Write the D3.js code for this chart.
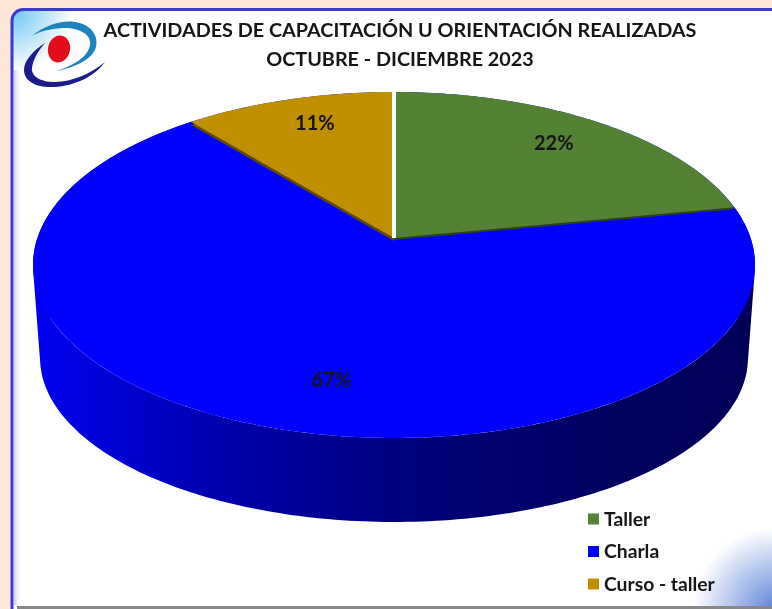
<!DOCTYPE html>
<html lang="es">
<head>
<meta charset="utf-8">
<title>Actividades de capacitación</title>
<script src="https://cdn.jsdelivr.net/npm/d3@7"></script>
<style>
  html, body { margin: 0; padding: 0; background: #fde5d8; overflow: hidden; }
  svg { display: block; }
  text { font-family: Lato, "Open Sans", sans-serif; font-weight: 700; fill: #141414; }
</style>
</head>
<body>
<div id="chart"></div>
<script>
// Data
const categories = ["Taller", "Charla", "Curso - taller"];
const percents = [22, 67, 11];
const colors = ["#548235", "#0000ff", "#bf8f00"];
const titleLines = ["ACTIVIDADES DE CAPACITACIÓN U ORIENTACIÓN REALIZADAS", "OCTUBRE - DICIEMBRE 2023"];

const width = 772, height = 609;

const svg = d3.select("#chart").append("svg")
  .attr("width", width)
  .attr("height", height)
  .attr("viewBox", [0, 0, width, height]);

const defs = svg.append("defs");

const cornerTL = defs.append("radialGradient").attr("id", "cornerTL")
  .attr("gradientUnits", "userSpaceOnUse")
  .attr("cx", 12).attr("cy", 10).attr("r", 62);
cornerTL.append("stop").attr("offset", 0).attr("stop-color", "#6cc4f2");
cornerTL.append("stop").attr("offset", 1).attr("stop-color", "#ffffff");

const cornerBR = defs.append("radialGradient").attr("id", "cornerBR")
  .attr("gradientUnits", "userSpaceOnUse")
  .attr("cx", 775).attr("cy", 610).attr("r", 82);
cornerBR.append("stop").attr("offset", 0).attr("stop-color", "#5f83d8");
cornerBR.append("stop").attr("offset", 1).attr("stop-color", "#5f83d8").attr("stop-opacity", 0);

const edgeL = defs.append("linearGradient").attr("id", "edgeL");
edgeL.append("stop").attr("offset", 0).attr("stop-color", "#ccccec");
edgeL.append("stop").attr("offset", 1).attr("stop-color", "#ffffff").attr("stop-opacity", 0);

// side wall shading, left to right
const wallStops = [[33, "#0000f4"], [90, "#0000dc"], [200, "#0000b4"], [400, "#00007c"], [600, "#000060"], [755, "#000058"]];
const wallGrad = defs.append("linearGradient").attr("id", "wall")
  .attr("gradientUnits", "userSpaceOnUse")
  .attr("x1", 33).attr("x2", 755).attr("y1", 0).attr("y2", 0);
wallGrad.selectAll("stop")
  .data(wallStops)
  .join("stop")
  .attr("offset", d => (d[0] - 33) / (755 - 33))
  .attr("stop-color", d => d[1]);

defs.append("filter").attr("id", "soft")
  .append("feGaussianBlur").attr("stdDeviation", 0.4);

// 1) Panel
svg.append("rect")
  .attr("x", 12).attr("y", 9.5)
  .attr("width", 800).attr("height", 640)
  .attr("rx", 11)
  .attr("fill", "url(#cornerTL)")
  .attr("stroke", "#3b3bd2")
  .attr("stroke-width", 3);
svg.append("rect")
  .attr("x", 14).attr("y", 70).attr("width", 8).attr("height", 535)
  .attr("fill", "url(#edgeL)");
svg.append("rect")
  .attr("x", 680).attr("y", 525).attr("width", 92).attr("height", 81)
  .attr("fill", "url(#cornerBR)");
svg.append("rect")
  .attr("x", 17).attr("y", 606).attr("width", 755).attr("height", 3)
  .attr("fill", "#888888");

// 2) Logo
const logo = svg.append("g").attr("filter", "url(#soft)");
logo.append("path")
  .attr("d", "M32,36 C45,25 62,20 75,22 C90,24 99,35 96,47 C93,59 76,67 57,71 C74,65 88,57 90,45 C92,34 78,27 62,28 C50,29 40,31 32,36Z")
  .attr("fill", "#1f83bd");
logo.append("path")
  .attr("d", "M45,43 C34,50 24,60 24,70 C24,82 38,88 54,87 C75,86 95,76 105,62 C92,73 72,82 55,82 C40,82 31,76 32,68 C33,59 39,50 45,43Z")
  .attr("fill", "#1a1a8c");
logo.append("ellipse")
  .attr("cx", 59).attr("cy", 49).attr("rx", 11).attr("ry", 13.5)
  .attr("transform", "rotate(12 59 49)")
  .attr("fill", "#e30a1c");

// 3) Perspective projection of the disc: top face and base
const topFace = { cx: 394, y0: 238, h: 168.8, r: 356.6, k: 0.156 };
const baseFace = { cx: 394, y0: 332.4, h: 160, r: 349.6, k: 0.156 };

function project(face, angle, radius = 1) {
  const u = Math.sin(angle) * radius, v = Math.cos(angle) * radius;
  const w = 1 + face.k * v;
  return [face.cx + face.r * u / w, face.y0 - face.h * v / w];
}

const arcs = d3.pie().sort(null).value(d => d)(percents);
const line = d3.line();
const step = Math.PI / 180;

const rim = (face, a0, a1) => d3.range(a0, a1, step).concat(a1).map(a => project(face, a));
const slicePath = d => line([project(topFace, 0, 0), ...rim(topFace, d.startAngle, d.endAngle)]) + "Z";

// 4) Side wall of the big slice: one path of small quads, all wound the same way
const charla = arcs[1];

function wallQuad(a) {
  const q = [project(topFace, a), project(topFace, a + step), project(baseFace, a + step), project(baseFace, a)];
  return line(d3.polygonArea(q) < 0 ? q.reverse() : q) + "Z";
}

svg.append("path")
  .attr("d", d3.range(charla.startAngle, charla.endAngle, step).map(wallQuad).join(""))
  .attr("fill", "url(#wall)");

// 5) Top face
const pie = svg.append("g");

pie.append("path").datum(charla)
  .attr("d", d => line(rim(topFace, 0, 2 * Math.PI)) + "Z")
  .attr("fill", colors[1]);

// dark strip under the two lifted slices
const stripDrop = [2, 0, 3];
[arcs[0], arcs[2]].forEach(d => {
  pie.append("path").datum(d)
    .attr("d", slicePath)
    .attr("transform", `translate(0,${stripDrop[d.index]})`)
    .attr("fill", d3.color(colors[d.index]).darker(1.9));
});

[arcs[0], arcs[2]].forEach(d => {
  pie.append("path").datum(d)
    .attr("d", slicePath)
    .attr("fill", colors[d.index]);
});

// white seam between Curso - taller and Taller
pie.append("path")
  .attr("d", line([project(topFace, 0, 0), project(topFace, 0)]))
  .attr("stroke", "#ffffff")
  .attr("stroke-width", 4)
  .attr("fill", "none");

// 6) Text
const labels = svg.append("g").attr("filter", "url(#soft)");

labels.selectAll("text.title")
  .data(titleLines)
  .join("text")
  .attr("class", "title")
  .attr("x", 400)
  .attr("y", (d, i) => 37 + i * 29)
  .attr("text-anchor", "middle")
  .attr("font-size", 19.8)
  .text(d => d);

// label angle shift and radius, fitted by eye
const labelShift = [-0.02, -0.14, 0.03];
const labelRadius = [0.79, 0.76, 0.8];
labels.selectAll("text.val")
  .data(arcs)
  .join("text")
  .attr("class", "val")
  .attr("transform", d => {
    const mid = (d.startAngle + d.endAngle) / 2 + labelShift[d.index];
    return `translate(${project(topFace, mid, labelRadius[d.index])})`;
  })
  .attr("dy", "0.36em")
  .attr("text-anchor", "middle")
  .attr("font-size", 20)
  .text(d => `${d.data}%`);

// 7) Legend
const legendY = d3.scalePoint().domain(categories).range([519, 584]);

const legend = labels.selectAll("g.key")
  .data(categories)
  .join("g")
  .attr("class", "key")
  .attr("transform", d => `translate(588,${legendY(d)})`);

legend.append("rect")
  .attr("y", -5.5)
  .attr("width", 11).attr("height", 11)
  .attr("fill", (d, i) => colors[i]);

legend.append("text")
  .attr("x", 16)
  .attr("dy", "0.36em")
  .attr("font-size", 19.3)
  .text(d => d);
</script>
</body>
</html>
